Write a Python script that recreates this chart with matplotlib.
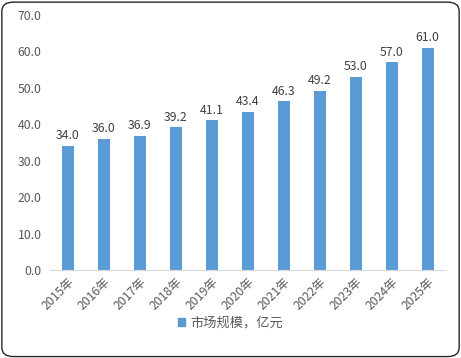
import matplotlib.pyplot as plt
import matplotlib.patches as mpatches
from matplotlib.patches import FancyBboxPatch

plt.rcParams['font.family'] = ['Noto Sans CJK SC', 'DejaVu Sans']

years = ['2015年', '2016年', '2017年', '2018年', '2019年', '2020年',
         '2021年', '2022年', '2023年', '2024年', '2025年']
values = [34.0, 36.0, 36.9, 39.2, 41.1, 43.4, 46.3, 49.2, 53.0, 57.0, 61.0]
series_name = '市场规模，亿元'

BAR = '#5B9BD5'

fig = plt.figure(figsize=(4.61, 3.58), dpi=100)
ax = fig.add_axes([0.108, 0.246, 0.859, 0.712])

x = range(len(years))
ax.bar(x, values, width=0.34, color=BAR, label=series_name)
for xi, v in zip(x, values):
    ax.text(xi, v + 1.0, f'{v:.1f}', ha='center', va='bottom',
            fontsize=8.8, color='#404040')

ax.set_xlim(-0.5, len(years) - 0.5)
ax.set_ylim(0, 70)
ax.set_yticks(range(0, 71, 10))
ax.set_yticklabels([f'{t:.1f}' for t in range(0, 71, 10)])
ax.set_xticks(list(x))
ax.set_xticklabels(years, rotation=45, ha='right', rotation_mode='anchor')
ax.tick_params(axis='both', length=0, labelsize=8.8, labelcolor='#595959')
ax.tick_params(axis='y', pad=6)
ax.tick_params(axis='x', pad=4)
for s in ['top', 'right', 'left']:
    ax.spines[s].set_visible(False)
ax.spines['bottom'].set_color('#D9D9D9')

fig.legend(handles=[mpatches.Patch(color=BAR, label=series_name)],
           loc='center', bbox_to_anchor=(0.5, 0.098), frameon=False,
           fontsize=9.5, handlelength=0.6, handleheight=0.6, handletextpad=0.4,
           labelcolor='#595959')

border = FancyBboxPatch((0.004, 0.004), 0.992, 0.99, transform=fig.transFigure,
                        boxstyle='round,pad=0,rounding_size=0.025',
                        facecolor='none', edgecolor='#262626', linewidth=1.0)
fig.patches.append(border)

fig.savefig('out.png', dpi=100)
